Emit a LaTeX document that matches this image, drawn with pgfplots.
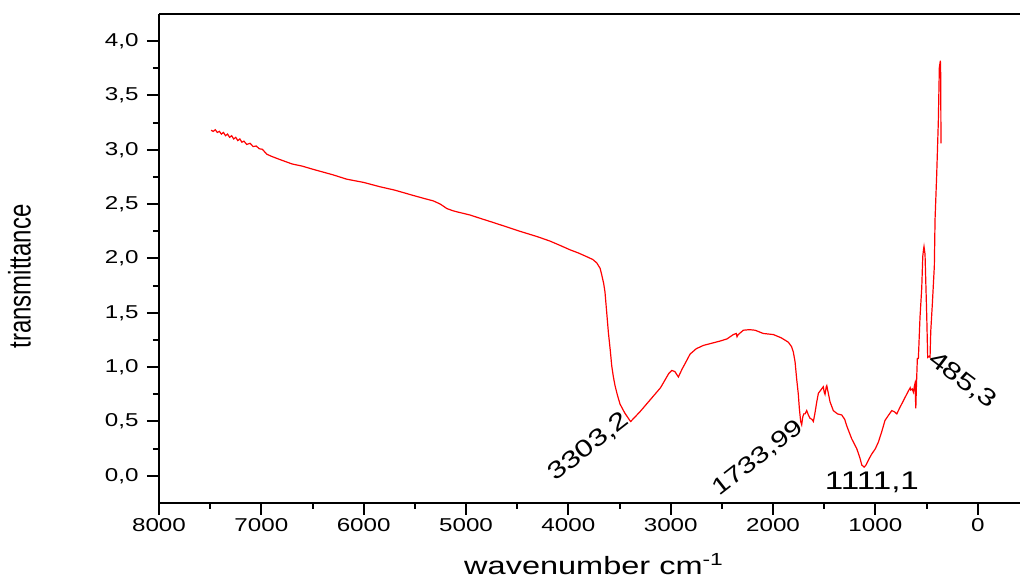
\documentclass[border=0pt]{standalone}
\usepackage{fontspec}
\setmainfont{Liberation Sans}[FakeStretch=1.3]
\newfontfamily\plainfont{Liberation Sans}
\usepackage{graphicx}
\usepackage{pgfplots}
\pgfplotsset{compat=1.18}
\begin{document}
\begin{tikzpicture}
\begin{axis}[
 at={(159pt,77pt)}, anchor=south west,
 scale only axis, width=861pt, height=489pt,
 x dir=reverse, xmin=-413, xmax=8000, ymin=-0.25, ymax=4.25,
 axis x line*=box, axis y line*=left,
 xtick pos=bottom, ytick pos=left,
 tick align=outside,
 major tick length=12pt, minor tick length=6pt,
 tick style={black, line width=2pt},
 axis line style={black, line width=2.6pt},
 xtick={0,1000,...,8000}, ytick={0,0.5,...,4.0},
 minor x tick num=1, minor y tick num=1,
 /pgf/number format/assume math mode=true,
 ticklabel style={font=\fontsize{18.6}{20}\selectfont},
 xticklabel style={/pgf/number format/.cd, 1000 sep={}},
 yticklabel style={xshift=-5pt, /pgf/number format/.cd, fixed, fixed zerofill, precision=1, use comma},
 xlabel={wavenumber cm\textsuperscript{-1}},
 ylabel={{\plainfont\fontsize{24}{26}\selectfont\scalebox{1}[1.3]{transmittance}}},
 every axis x label/.style={at={(axis description cs:0.505,-0.147)}, anchor=base, font=\fontsize{25}{27}\selectfont},
 every axis y label/.style={at={(axis description cs:-0.162,0.463)}, rotate=90, anchor=center},
]
\addplot[red, line width=1.2pt] coordinates {
(7491,3.18) (7470,3.17) (7450,3.185) (7430,3.16) (7410,3.17) (7390,3.145) (7370,3.16) (7350,3.13)
(7330,3.145) (7310,3.115) (7290,3.13) (7270,3.10) (7250,3.115) (7230,3.085) (7210,3.10) (7190,3.07)
(7170,3.08) (7143,3.05) (7110,3.06) (7080,3.03) (7050,3.035) (7020,3.01) (6990,3.005) (6947,2.96)
(6900,2.94) (6817,2.91) (6700,2.87) (6600,2.85) (6492,2.82) (6300,2.77) (6166,2.73) (6000,2.70)
(5840,2.66) (5700,2.63) (5515,2.58) (5400,2.55) (5319,2.53) (5250,2.50) (5188,2.46) (5130,2.44)
(5091,2.43) (4960,2.40) (4863,2.37) (4763,2.34) (4600,2.29) (4472,2.25) (4300,2.20) (4179,2.16)
(4080,2.12) (3984,2.08) (3900,2.05) (3805,2.01) (3760,1.99) (3723,1.96) (3690,1.91) (3674,1.85)
(3655,1.77) (3642,1.69) (3625,1.50) (3609,1.32) (3590,1.15) (3576,1.01) (3560,0.91) (3544,0.83)
(3520,0.74) (3495,0.66) (3450,0.58) (3400,0.51) (3391,0.50) (3300,0.59) (3200,0.70) (3100,0.81)
(3020,0.94) (2990,0.97) (2960,0.96) (2925,0.91) (2890,0.98) (2850,1.05) (2811,1.12) (2750,1.17)
(2681,1.20) (2600,1.22) (2518,1.24) (2450,1.26) (2388,1.30) (2360,1.31) (2352,1.28) (2340,1.30)
(2290,1.34) (2230,1.345) (2176,1.34) (2095,1.31) (1997,1.30) (1920,1.27) (1851,1.23) (1820,1.19)
(1802,1.14) (1785,1.05) (1769,0.89) (1753,0.75) (1743,0.62) (1730,0.50) (1720,0.47) (1710,0.54)
(1700,0.57) (1687,0.57) (1671,0.60) (1655,0.56) (1639,0.53) (1620,0.52) (1606,0.50) (1590,0.58)
(1573,0.68) (1557,0.76) (1541,0.78) (1525,0.80) (1509,0.82) (1500,0.77) (1492,0.75) (1480,0.82)
(1475,0.83) (1460,0.76) (1443,0.68) (1411,0.60) (1370,0.57) (1329,0.56) (1300,0.52) (1280,0.46)
(1231,0.34) (1182,0.25) (1150,0.16) (1133,0.10) (1110,0.08) (1091,0.10) (1060,0.16) (1036,0.20)
(1000,0.25) (971,0.31) (940,0.40) (906,0.51) (870,0.56) (840,0.60) (815,0.59) (791,0.57)
(760,0.63) (727,0.69) (700,0.74) (678,0.78) (660,0.81) (655,0.79) (640,0.80) (629,0.77)
(620,0.82) (613,0.85) (605,0.62) (600,0.80) (590,1.08) (580,1.08) (564,1.46) (547,1.73)
(537,2.02) (530,2.08) (525,2.11) (515,2.04) (505,1.70) (498,1.46) (489,1.09) (475,1.10)
(466,1.09) (459,1.33) (443,1.59) (424,1.93) (417,2.36) (401,2.77) (385,3.26) (375,3.76)
(365,3.82) (362,3.70) (359,3.06)
};
\node[rotate=38, font=\fontsize{24}{26}\selectfont] at (axis cs:3800,0.265) {3303,2};
\node[rotate=38, font=\fontsize{23}{25}\selectfont] at (axis cs:2150,0.16) {1733,99};
\node[font=\fontsize{25.5}{27}\selectfont] at (axis cs:1034,-0.06) {1111,1};
\node[rotate=-37, font=\fontsize{24}{26}\selectfont] at (axis cs:150,0.88) {485,3};
\end{axis}
\pgfresetboundingbox
\path[use as bounding box] (0,0) rectangle (1020pt,580pt);
\end{tikzpicture}
\end{document}
